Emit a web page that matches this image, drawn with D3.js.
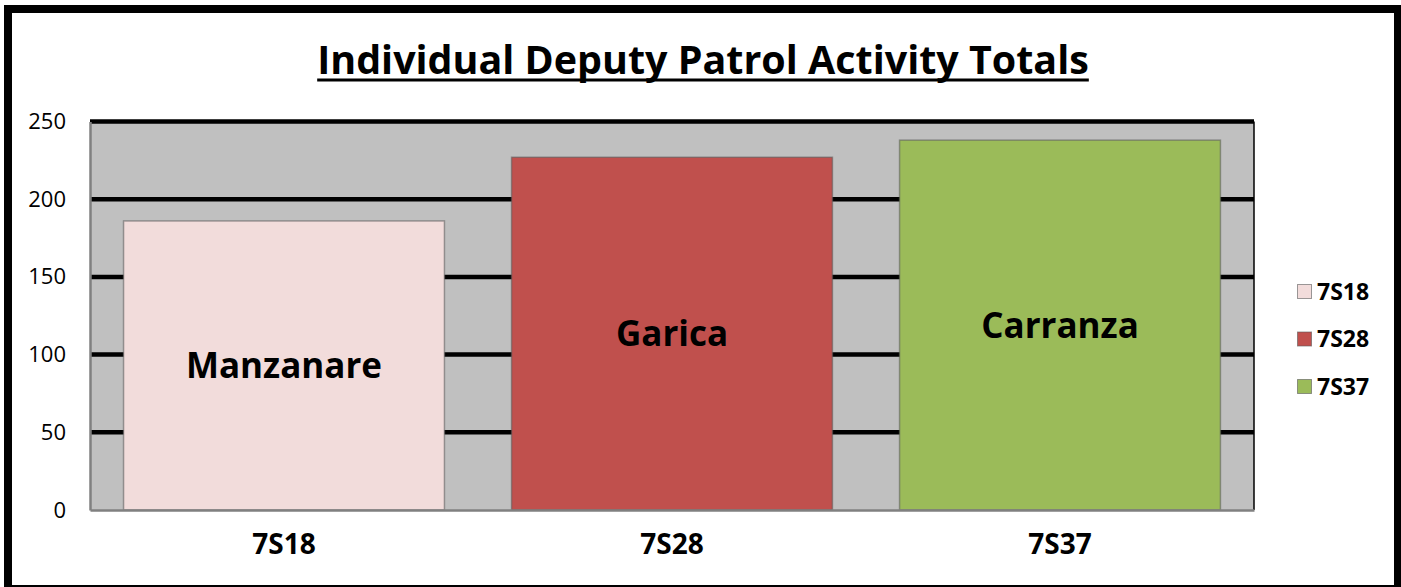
<!DOCTYPE html>
<html>
<head>
<meta charset="utf-8">
<script src="https://cdn.jsdelivr.net/npm/d3@7"></script>
<style>
  body { margin: 0; background: #ffffff; }
  svg { display: block; font-family: "Open Sans", "DejaVu Sans", sans-serif; }
</style>
</head>
<body>
<svg id="chart" width="1401" height="587"></svg>
<script>
// chart data
var categories = ['7S18', '7S28', '7S37'];
var deputies = ['Manzanare', 'Garica', 'Carranza'];
var totals = [186, 227, 238];
var barColors = ['#F2DCDB', '#C0504D', '#9BBB59'];
var yTicks = [0, 50, 100, 150, 200, 250];
var chartTitle = 'Individual Deputy Patrol Activity Totals';

var svg = d3.select('#chart');
var plot = { left: 90, right: 1254, top: 121.5, bottom: 510 };

// outer frame
svg.append('rect')
  .attr('x', 8).attr('y', 9)
  .attr('width', 1390).attr('height', 580)
  .attr('fill', '#ffffff')
  .attr('stroke', '#000000')
  .attr('stroke-width', 8);

// scales
var x = d3.scaleBand()
  .domain(categories)
  .range([plot.left, plot.right])
  .paddingInner(0.173)
  .paddingOuter(0.0865);

var y = d3.scaleLinear()
  .domain([0, 250])
  .range([plot.bottom, plot.top]);

// plot background
svg.append('rect')
  .attr('x', plot.left).attr('y', plot.top)
  .attr('width', plot.right - plot.left)
  .attr('height', plot.bottom - plot.top)
  .attr('fill', '#C0C0C0');

// gridlines
svg.append('g')
  .selectAll('line')
  .data(yTicks.filter(function(d) { return d > 0; }))
  .join('line')
  .attr('x1', plot.left).attr('x2', plot.right)
  .attr('y1', function(d) { return y(d); })
  .attr('y2', function(d) { return y(d); })
  .attr('stroke', '#000000')
  .attr('stroke-width', 4.5);

// right edge of plot
svg.append('line')
  .attr('x1', plot.right).attr('x2', plot.right)
  .attr('y1', plot.top).attr('y2', plot.bottom)
  .attr('stroke', '#000000')
  .attr('stroke-width', 1.5);

// bars
svg.append('g')
  .selectAll('rect')
  .data(totals)
  .join('rect')
  .attr('x', function(d, i) { return x(categories[i]); })
  .attr('y', function(d) { return y(d); })
  .attr('width', x.bandwidth())
  .attr('height', function(d) { return y(0) - y(d); })
  .attr('fill', function(d, i) { return barColors[i]; })
  .attr('stroke', 'rgba(90,90,90,0.55)')
  .attr('stroke-width', 1.5);

// name labels inside the bars
svg.append('g')
  .selectAll('text')
  .data(totals)
  .join('text')
  .attr('x', function(d, i) { return x(categories[i]) + x.bandwidth() / 2; })
  .attr('y', function(d) { return (y(d) + y(0)) / 2; })
  .attr('dy', '0.36em')
  .attr('text-anchor', 'middle')
  .style('font-size', '35px')
  .style('font-weight', 'bold')
  .style('fill', '#000000')
  .text(function(d, i) { return deputies[i]; });

// y axis
var yAxis = svg.append('g')
  .attr('transform', 'translate(' + plot.left + ',0)')
  .call(d3.axisLeft(y).tickValues(yTicks).tickSize(0).tickPadding(24));
yAxis.select('.domain').attr('stroke', '#808080').attr('stroke-width', 2.5);
yAxis.selectAll('text')
  .style('font-size', '22px')
  .style('font-family', '"Open Sans", sans-serif')
  .style('fill', '#000000');

// x axis
var xAxis = svg.append('g')
  .attr('transform', 'translate(0,' + plot.bottom + ')')
  .call(d3.axisBottom(x).tickSize(0).tickPadding(24));
xAxis.select('.domain').attr('stroke', '#808080').attr('stroke-width', 2.5);
xAxis.selectAll('text')
  .style('font-size', '28px')
  .style('font-weight', 'bold')
  .style('font-family', '"Open Sans", sans-serif')
  .style('fill', '#000000');

// title
var title = svg.append('text')
  .attr('x', 703)
  .attr('y', 74)
  .attr('text-anchor', 'middle')
  .style('font-size', '36px')
  .style('font-weight', 'bold')
  .style('fill', '#000000')
  .text(chartTitle);

// fit title width to reference (about 772px)
var tw = title.node().getComputedTextLength();
title.style('font-size', (36 * 772 / tw) + 'px');
var bb = title.node().getBBox();
svg.append('line')
  .attr('x1', bb.x).attr('x2', bb.x + bb.width)
  .attr('y1', 80).attr('y2', 80)
  .attr('stroke', '#000000')
  .attr('stroke-width', 3);

// legend
var legend = svg.append('g')
  .selectAll('g')
  .data(categories)
  .join('g')
  .attr('transform', function(d, i) { return 'translate(1297,' + (284 + i * 47.5) + ')'; });

legend.append('rect')
  .attr('x', 0.5).attr('y', 0.5)
  .attr('width', 14).attr('height', 14)
  .attr('fill', function(d, i) { return barColors[i]; })
  .attr('stroke', 'rgba(90,90,90,0.6)')
  .attr('stroke-width', 1);

legend.append('text')
  .attr('x', 20)
  .attr('y', 15.5)
  .style('font-size', '23px')
  .style('font-weight', 'bold')
  .style('fill', '#000000')
  .text(function(d) { return d; });
</script>
</body>
</html>
